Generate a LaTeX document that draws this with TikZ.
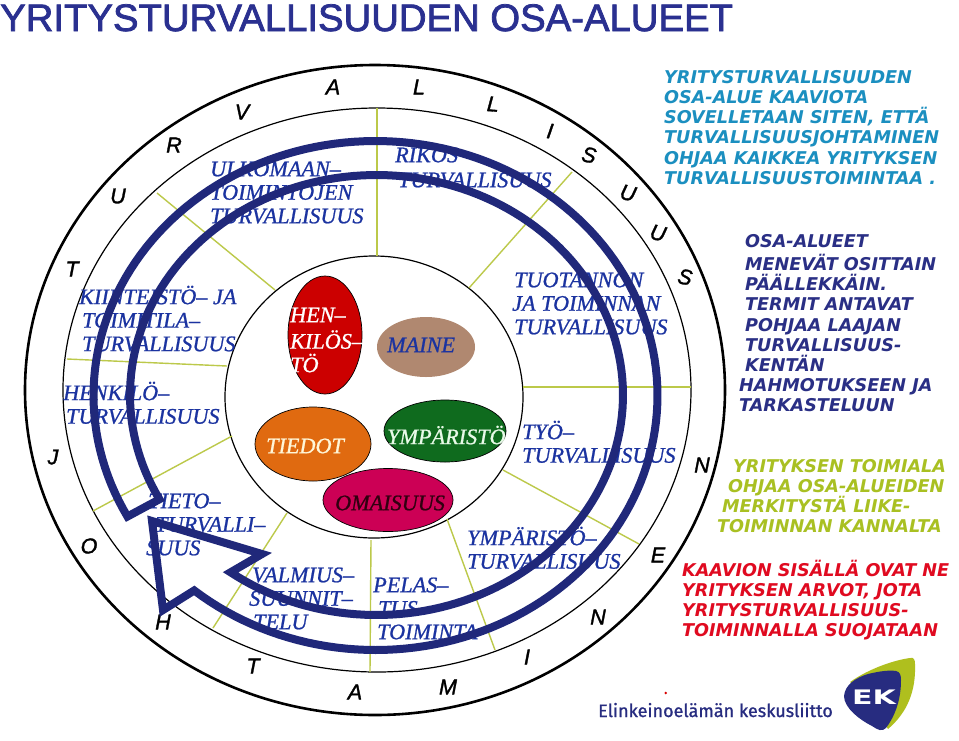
\documentclass[tikz,border=0pt]{standalone}
\usepackage{fontspec}
\usetikzlibrary{shapes.geometric}
\setmainfont{Liberation Serif}[ItalicFeatures={FakeBold=0.9}]
\newfontfamily\sansfam{Liberation Sans}[ItalicFeatures={FakeBold=1.5}]
\newfontfamily\titlefam{Liberation Sans}[FakeBold=2]
\newfontfamily\boldfam{DejaVu Sans}
\newfontfamily\logofam{Fira Sans}[FakeBold=1]
\definecolor{navyArrow}{HTML}{20287A}
\definecolor{titleBlue}{HTML}{2A3090}
\definecolor{areaBlue}{HTML}{1B33A0}
\definecolor{spoke}{HTML}{BCC94A}
\definecolor{tealT}{HTML}{1B8FC0}
\definecolor{navyT}{HTML}{2A2F85}
\definecolor{oliveT}{HTML}{A9C022}
\definecolor{redT}{HTML}{E00A20}
\definecolor{logoGreen}{HTML}{AFBF1E}
\definecolor{logoNavy}{HTML}{272C80}
\definecolor{henkC}{HTML}{CC0000}
\definecolor{maineC}{HTML}{B08870}
\definecolor{tiedotC}{HTML}{E06A10}
\definecolor{ymparC}{HTML}{0F6B1E}
\definecolor{omaisC}{HTML}{CC0055}
\definecolor{creamT}{HTML}{FFF6D8}
\definecolor{paleT}{HTML}{E8FAE8}
\definecolor{darkT}{HTML}{300010}
\tikzset{
  ring/.style={draw=black,line width=1.2pt},
  spokeline/.style={draw=spoke,line width=1.4pt},
  ringletter/.style={font=\sansfam\itshape\fontsize{21.5}{21}\selectfont,inner sep=0pt,text=black},
  blob/.style={ellipse,inner sep=0pt,draw=black,line width=0.7pt},
}
% style, name, x, first baseline, line skip, size, family, text
\newcommand\blk[8]{\node[text=#1,name=#2,anchor=north west,inner sep=0pt,align=left,font=#7\fontsize{#6}{#5}\selectfont] at (#3,{#4-0.7*#5}) {\strut #8};}
\newcommand\area[5]{\blk{#1}{#2}{#3}{#4}{23.5}{22.2}{\itshape}{#5}}
\newcommand\side[5]{\blk{#1}{#2}{#3}{#4}{20.2}{17.6}{\boldfam\bfseries\itshape}{#5}}
\newcommand\ltr[5]{\node[ringletter,rotate=#5,name=#1] at (#3,#4) {#2};}
\begin{document}
\begin{tikzpicture}[x=1pt,y=-1pt]
\useasboundingbox[fill=white] (0,0) rectangle (959,740);

% title
\node[name=title,anchor=base west,inner sep=0pt,text=titleBlue,font=\titlefam\fontsize{38.3}{38}\selectfont] at (0,31) {YRITYSTURVALLISUUDEN OSA-ALUEET};

% rings
\draw[draw=black,line width=2.6pt] (375,390) ellipse (350 and 325);
\draw[ring] (377,390) ellipse (314 and 282);
\draw[ring] (374,397) ellipse (149 and 141);

% spokes
\draw[spokeline] (377,108) -- (377,256);
\draw[spokeline] (157,193) -- (275,290);
\draw[spokeline] (67,359) -- (227,366);
\draw[spokeline] (93,511) -- (232,436);
\draw[spokeline] (213,628) -- (287,513);
\draw[spokeline] (370,672) -- (371,540);
\draw[spokeline] (495,650) -- (447,519);
\draw[spokeline] (639,544) -- (503,470);
\draw[spokeline] (523,387) -- (691,387);
\draw[spokeline] (572,172) -- (469,288);

% ring letters
\ltr{l1}{T}{72}{269}{0}
\ltr{l2}{U}{118}{196}{0}
\ltr{l3}{R}{174}{145}{0}
\ltr{l4}{V}{242}{112}{0}
\ltr{l5}{A}{333}{87}{0}
\ltr{l6}{L}{419}{87}{0}
\ltr{l7}{L}{493}{104}{-4}
\ltr{l8}{I}{550}{131}{-8}
\ltr{l9}{S}{589}{155}{-10}
\ltr{l10}{U}{628}{193}{-14}
\ltr{l11}{U}{658}{233}{-14}
\ltr{l12}{S}{685}{277}{-10}
\ltr{l13}{N}{702}{465}{0}
\ltr{l14}{E}{658}{555}{0}
\ltr{l15}{N}{598}{617}{0}
\ltr{l16}{I}{527}{657}{0}
\ltr{l17}{M}{448}{687}{0}
\ltr{l18}{A}{355}{692}{0}
\ltr{l19}{T}{253}{666}{0}
\ltr{l20}{H}{163}{622}{0}
\ltr{l21}{O}{89}{546}{0}
\ltr{l22}{J}{53}{457}{0}

% centre ellipses
\node[blob,fill=henkC,minimum width=74pt,minimum height=118pt,name=henk] at (325,335) {};
\node[blob,draw=none,fill=maineC,minimum width=98pt,minimum height=60pt,name=maine] at (426,347) {};
\node[blob,fill=tiedotC,minimum width=116pt,minimum height=74pt,name=tiedot] at (313,444) {};
\node[blob,fill=ymparC,minimum width=122pt,minimum height=62pt,name=ympar] at (445,431) {};
\node[blob,fill=omaisC,minimum width=130pt,minimum height=63pt,name=omais] at (388,500) {};

\area{white}{henkT}{290}{322}{HEN–\\KILÖS–\\TÖ}
\area{areaBlue}{maineT}{387}{352}{MAINE}
\area{creamT}{tiedotT}{266}{453}{TIEDOT}
\area{paleT}{ymparT}{387}{442}{YMPÄRISTÖ}
\area{darkT}{omaisT}{335}{510}{OMAISUUS}

% area labels
\area{areaBlue}{ulko}{210}{176}{ULKOMAAN–\\TOIMINTOJEN\\TURVALLISUUS}
\blk{areaBlue}{rikos}{395}{162}{25}{22.2}{\itshape}{RIKOS\\\hspace*{3pt}TURVALLISUUS}
\area{areaBlue}{kiin}{79}{302}{KIINTEISTÖ– JA\\\hspace*{3pt}TOIMITILA–\\\hspace*{3pt}TURVALLISUUS}
\area{areaBlue}{henkilo}{63}{398}{HENKILÖ–\\\hspace*{3pt}TURVALLISUUS}
\area{areaBlue}{tieto}{146}{508}{\hspace*{2pt}TIETO–\\\hspace*{9pt}TURVALLI–\\SUUS}
\area{areaBlue}{valm}{249}{582}{\hspace*{3pt}VALMIUS–\\SUUNNIT–\\\hspace*{4pt}TELU}
\area{areaBlue}{pelas}{373}{592}{PELAS–\\\hspace*{5pt}TUS\\\hspace*{4pt}TOIMINTA}
\area{areaBlue}{ymp}{467}{543}{YMPÄRISTÖ–\\TURVALLISUUS}
\area{areaBlue}{tyo}{522}{437}{TYÖ–\\TURVALLISUUS}
\area{areaBlue}{tuot}{512}{287}{\hspace*{2pt}TUOTANNON\\JA TOIMINNAN\\\hspace*{2pt}TURVALLISUUS}

% big arrow
\draw[navyArrow,line width=8pt,line join=miter,miter limit=10]
  plot[domain=151.6:490,samples=170] ({375.5+282*cos(\x)},{395.5+254.5*sin(\x)})
  -- (163,610) -- (152,521) -- (262,554)
  -- plot[domain=486.3:151.7,samples=170] ({376.5+246.5*cos(\x)},{395+220*sin(\x)})
  -- cycle;

% side texts
\side{tealT}{s1}{664}{83}{YRITYSTURVALLISUUDEN\\OSA-ALUE KAAVIOTA\\SOVELLETAAN SITEN, ETTÄ\\TURVALLISUUSJOHTAMINEN\\OHJAA KAIKKEA YRITYKSEN\\TURVALLISUUSTOIMINTAA .}
\side{navyT}{s2}{739}{247}{\hspace*{6pt}OSA-ALUEET\\\hspace*{6pt}MENEVÄT OSITTAIN\\\hspace*{6pt}PÄÄLLEKKÄIN.\\\hspace*{6pt}TERMIT ANTAVAT\\\hspace*{6pt}POHJAA LAAJAN\\\hspace*{6pt}TURVALLISUUS-\\\hspace*{6pt}KENTÄN\\HAHMOTUKSEEN JA\\TARKASTELUUN}
\side{oliveT}{s3}{717}{472}{\hspace*{16pt}YRITYKSEN TOIMIALA\\\hspace*{11pt}OHJAA OSA-ALUEIDEN\\\hspace*{5pt}MERKITYSTÄ LIIKE-\\TOIMINNAN KANNALTA}
\side{redT}{s4}{682}{574}{KAAVION SISÄLLÄ OVAT NE\\YRITYKSEN ARVOT, JOTA\\YRITYSTURVALLISUUS-\\TOIMINNALLA SUOJATAAN}

% logo
\node[name=logotext,anchor=base west,inner sep=0pt,text=logoNavy,font=\logofam\fontsize{18}{18}\selectfont] at (598,717) {Elinkeinoelämän keskusliitto};
\fill[red!85!black] (665.7,693) circle (1.4);
\fill[logoGreen] (850,682) .. controls (870,668) and (895,660) .. (910,658) .. controls (914,657) and (915,660) .. (915,664) .. controls (916,690) and (908,712) .. (888,729) -- (870,700) -- cycle;
\fill[logoNavy] (844,696) .. controls (845,685) and (855,678) .. (868,674) .. controls (880,671) and (890,670) .. (896,671) .. controls (900,672) and (901,675) .. (901,680) .. controls (901,700) and (895,716) .. (886,728) .. controls (882,732) and (878,730) .. (872,726) .. controls (860,720) and (844,708) .. (844,696) -- cycle;
\node[name=ek,inner sep=0pt,text=white,font=\boldfam\bfseries\fontsize{20}{20}\selectfont] at (874,697.5) {\scalebox{1.5}[1]{EK}};
\end{tikzpicture}
\end{document}
